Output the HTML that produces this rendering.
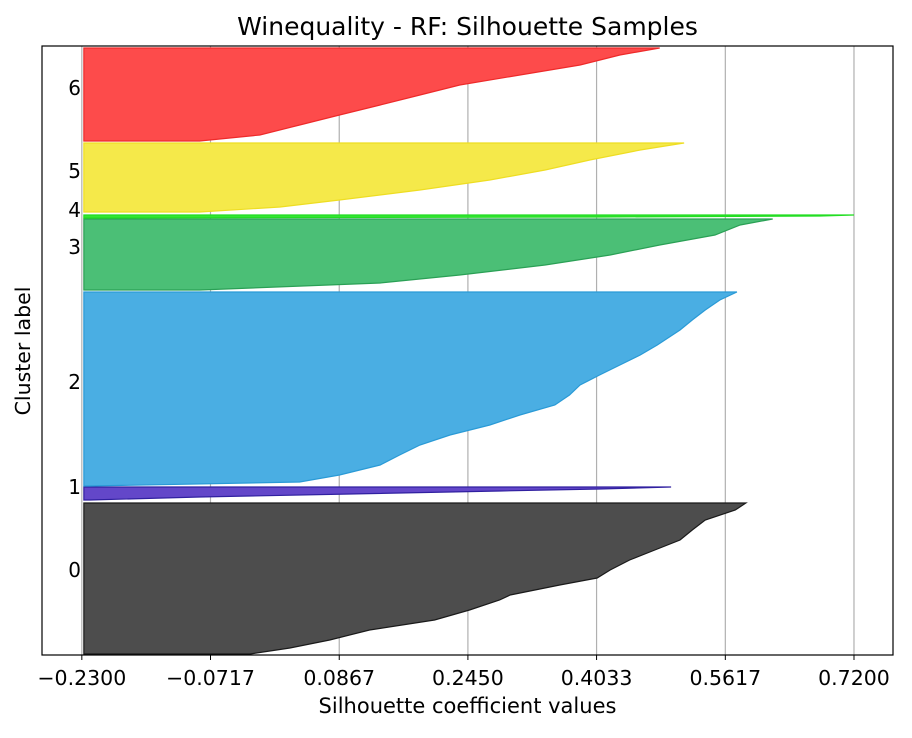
<!DOCTYPE html>
<html><head><meta charset="utf-8"><style>
body{margin:0;background:#fff;font-family:"Liberation Sans","DejaVu Sans",sans-serif}
svg text{font-family:"DejaVu Sans","Liberation Sans",sans-serif}
</style></head><body>
<svg id="chart" width="912" height="733"></svg>
<script>
const xTicks=[-0.23,-0.0717,0.0867,0.245,0.4033,0.5617,0.72];
const xTickLabels=["\u22120.2300","\u22120.0717","0.0867","0.2450","0.4033","0.5617","0.7200"];
const clusterNames=["0","1","2","3","4","5","6"];
const clusterLabelY=[85,168,273,408,445,484,567];
const fills=["#4d4d4d","#6347c9","#4aaee3","#4bbf76","#33e633","#f5e94a","#fd4b4b"];
const edges=["#1a1a1a","#3020a0","#2a9ad6","#2aa055","#22dd22","#eedd22","#ee2a2a"];
const v0=[-0.023,0.026,0.075,0.124,0.204,0.247,0.284,0.297,0.358,0.404,0.420,0.444,0.475,0.506,0.521,0.537,0.574,0.587];
const r0=[1,7,15,25,35,45,55,60,70,77,85,95,105,115,125,135,145,152];
const v1=[-0.220,-0.085,0.100,0.284,0.407,0.495];
const r1=[155,158,161,164,166,168];
const v2=[-0.220,0.038,0.087,0.137,0.161,0.186,0.223,0.272,0.309,0.352,0.370,0.383,0.407,0.432,0.457,0.478,0.506,0.521,0.537,0.555,0.576];
const r2=[169,173,180,190,200,210,220,230,240,250,260,270,280,290,300,310,325,335,345,355,363];
const v3=[-0.085,0.137,0.235,0.340,0.420,0.481,0.549,0.580,0.620];
const r3=[365,372,380,390,400,410,420,430,436];
const v4=[-0.220,0.407,0.678,0.720];
const r4=[437,438,439,440];
const v5=[-0.085,0.014,0.087,0.186,0.272,0.340,0.395,0.457,0.511];
const r5=[443,448,455,465,475,485,495,505,512];
const v6=[-0.085,-0.011,0.038,0.087,0.137,0.186,0.235,0.309,0.383,0.432,0.481];
const r6=[514,520,530,540,550,560,570,580,590,600,607];
const values=[v0,v1,v2,v3,v4,v5,v6];
const ranks=[r0,r1,r2,r3,r4,r5,r6];
const base=-0.2275;

const L=42,R=893,T=46,B=655;
const xMin=-0.279,xMax=0.768,yMin=0,yMax=609;
const xs=v=>L+(v-xMin)/(xMax-xMin)*(R-L);
const ys=v=>B-(v-yMin)/(yMax-yMin)*(B-T);
const svg=document.getElementById('chart');
const NS="http://www.w3.org/2000/svg";
function mk(tag,attrs){const e=document.createElementNS(NS,tag);for(const k in attrs)e.setAttribute(k,attrs[k]);svg.appendChild(e);return e;}

xTicks.forEach((t,i)=>{
  const g=mk('line',{x1:xs(t),x2:xs(t),y1:T,y2:B,stroke:'#b0b0b0','stroke-width':1.2});
  
  
});
values.forEach((vals,c)=>{
  const rk=ranks[c];
  let pts=[];
  vals.forEach((v,i)=>{pts.push(xs(v)+','+ys(rk[i]));});
  pts.push(xs(base)+','+ys(rk[rk.length-1]));pts.push(xs(base)+','+ys(rk[0]));
  const p=mk('polygon',{points:pts.join(' '),fill:fills[c],stroke:edges[c],'stroke-width':1.2});
  
  
  const t=mk('text',{x:81,y:ys(clusterLabelY[c])+7,'text-anchor':'end','font-size':20,fill:'#000'});
  t.textContent=clusterNames[c];
  
  
});
const fr=mk('rect',{x:L,y:T,width:R-L,height:B-T,fill:'none',stroke:'#000','stroke-width':1.2});


xTicks.forEach((t,i)=>{
  const tk=mk('line',{x1:xs(t),x2:xs(t),y1:B,y2:B+5,stroke:'#000','stroke-width':1});
  
  
  const tl=mk('text',{x:xs(t),y:B+30,'text-anchor':'middle','font-size':20.5});
  tl.textContent=xTickLabels[i];
  
  
});
const title=mk('text',{x:(L+R)/2,y:35,'text-anchor':'middle','font-size':25});
title.textContent="Winequality - RF: Silhouette Samples";


const xl=mk('text',{x:(L+R)/2,y:713,'text-anchor':'middle','font-size':21});
xl.textContent="Silhouette coefficient values";


const yl=mk('text',{x:0,y:0,'text-anchor':'middle','font-size':20.5,transform:'translate(30,351) rotate(-90)'});
yl.textContent="Cluster label";


</script>
</body></html>
